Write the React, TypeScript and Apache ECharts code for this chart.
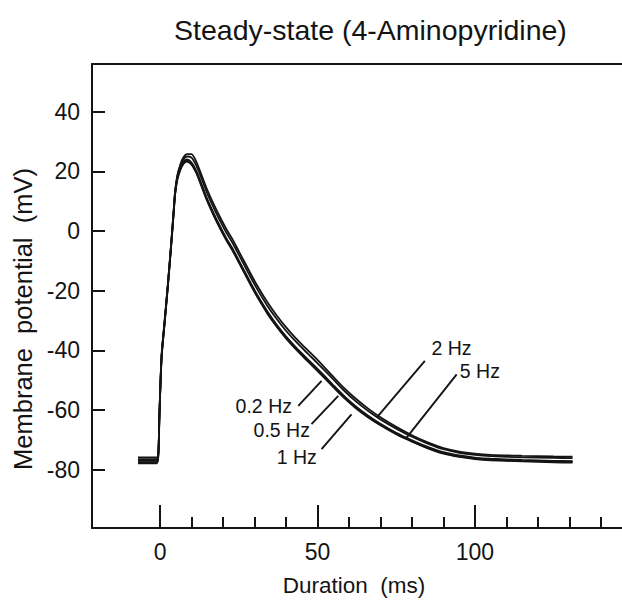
import React, { useEffect, useRef } from "react";
import * as echarts from "echarts";

const timeMs = [-7, -4, -1, -0.5, -0.2, 0.5, 1.5, 2.5, 3.2, 3.8, 4.3, 4.8, 5.5, 6.5, 7.5, 8.5, 10, 11.5, 13, 15, 17, 19, 21, 23, 25, 27, 29, 31, 34, 37, 40, 43, 46, 49, 52, 55, 58, 62, 66, 70, 75, 80, 85, 90, 95, 100, 105, 115, 125, 131];

const v02Hz = [-77.8, -77.8, -77.8, -74.5, -62.5, -42.5, -30.5, -18.5, -9.5, -1.5, 5.5, 12.3, 17.2, 20.6, 22.6, 23.3, 22.3, 19.5, 15.5, 10, 5.3, 1, -3, -6.5, -10.5, -14.5, -18.5, -22.3, -27.5, -32, -36, -39.5, -42.7, -45.8, -49, -52.3, -55.5, -59.2, -62.4, -65.1, -68.1, -70.6, -72.8, -74.6, -75.7, -76.4, -76.8, -77.2, -77.5, -77.6];
const v05Hz = [-77.4, -77.4, -77.4, -74.3, -62.3, -42.3, -30.3, -18.3, -9.3, -1.3, 5.7, 12.6, 17.5, 21, 23, 23.7, 22.7, 19.9, 15.9, 10.4, 5.7, 1.4, -2.6, -6.1, -10.1, -14.1, -18.1, -21.9, -27.1, -31.6, -35.6, -39.1, -42.3, -45.4, -48.6, -51.9, -55.1, -58.9, -62.1, -64.9, -67.9, -70.4, -72.6, -74.4, -75.5, -76.2, -76.6, -77, -77.2, -77.3];
const v1Hz = [-77, -77, -77, -74, -62, -42, -30, -18, -9, -1, 6, 12.8, 17.8, 21.3, 23.3, 24, 23, 20.2, 16.2, 10.7, 6, 1.7, -2.3, -5.8, -9.8, -13.8, -17.8, -21.6, -26.8, -31.3, -35.3, -38.8, -42, -45.1, -48.3, -51.6, -54.8, -58.6, -61.8, -64.6, -67.6, -70.1, -72.3, -74.1, -75.2, -75.9, -76.3, -76.7, -77, -77.1];
const v2Hz = [-76.4, -76.4, -76.4, -73.8, -61.8, -41.8, -29.8, -17.8, -8.8, -0.8, 6.2, 13.2, 18.3, 22, 24.2, 25, 24.6, 22, 18.1, 12.6, 7.9, 3.6, -0.4, -3.9, -7.9, -11.9, -15.9, -19.7, -24.9, -29.4, -33.4, -36.9, -40.1, -43.2, -46.4, -49.7, -53, -56.9, -60.2, -63.1, -66.2, -68.9, -71.2, -73.1, -74.3, -75, -75.4, -75.8, -76, -76.1];
const v5Hz = [-75.8, -75.8, -75.8, -73.5, -61.5, -41.5, -29.5, -17.5, -8.5, -0.5, 6.5, 13.5, 18.7, 22.5, 24.8, 25.8, 25.8, 23.3, 19.3, 13.8, 9.1, 4.8, 0.8, -2.7, -6.7, -10.7, -14.7, -18.5, -23.7, -28.2, -32.2, -35.8, -39, -42.1, -45.4, -48.8, -52.1, -56, -59.4, -62.4, -65.6, -68.4, -70.8, -72.7, -73.9, -74.6, -75, -75.3, -75.5, -75.6];

const seriesNames = ["0.2 Hz", "0.5 Hz", "1 Hz", "2 Hz", "5 Hz"];
const seriesValues = [v02Hz, v05Hz, v1Hz, v2Hz, v5Hz];

const yTickValues = [-80, -60, -40, -20, 0, 20, 40];
const xLabelValues = [0, 50, 100];
const xMinorTickValues = [10, 20, 30, 40, 60, 70, 80, 90, 110, 120, 130, 140];

// annotation: label text, label anchor (t, v), leader from (t, v) to (t, v)
const annoText = ["0.2 Hz", "0.5 Hz", "1 Hz", "2 Hz", "5 Hz"];
const annoAlign = ["right", "right", "right", "left", "left"];
const annoLabelPos = [[41.9, -58.5], [47.6, -66.7], [49.8, -75.6], [86.2, -39.1], [95.2, -46.8]];
const annoLeaderFrom = [[43.9, -58.6], [48.1, -64.7], [51.3, -73.1], [68.8, -62.5], [78.3, -69.2]];
const annoLeaderTo = [[51.3, -50.2], [56.6, -55.2], [60.8, -61.4], [84.1, -43.5], [94.2, -48]];

const FONT = "'Liberation Sans', Arial, Helvetica, sans-serif";
const INK = "#141414";

export default function App() {
  const ref = useRef<HTMLDivElement>(null);
  useEffect(() => {
    if (!ref.current) return;
    const chart = echarts.init(ref.current, null, { renderer: "svg" });
    const xMin = -21.6;
    const xMax = 146.7;
    const option: any = {
      animation: false,
      backgroundColor: "#ffffff",
      textStyle: { fontFamily: FONT, color: INK },
      title: {
        text: "Steady-state (4-Aminopyridine)",
        left: 169,
        top: 10,
        textStyle: { fontFamily: FONT, fontSize: 28.5, fontWeight: "normal", color: INK },
      },
      grid: { left: 92, right: 0, top: 64, bottom: 73 },
      xAxis: [
        {
          type: "value",
          min: xMin,
          max: xMax,
          position: "bottom",
          name: "Duration  (ms)",
          nameLocation: "middle",
          nameGap: 46,
          nameTextStyle: { fontFamily: FONT, fontSize: 22.5, color: INK, padding: [0, 6, 0, 0] },
          axisLine: { show: true, onZero: false, lineStyle: { color: INK, width: 2 } },
          axisTick: { show: true, inside: true, length: 23, customValues: xLabelValues, lineStyle: { color: INK, width: 2 } },
          axisLabel: { show: true, customValues: xLabelValues, fontFamily: FONT, fontSize: 23, color: INK, margin: 12 },
          splitLine: { show: false },
        },
        {
          type: "value",
          min: xMin,
          max: xMax,
          position: "bottom",
          axisLine: { show: false, onZero: false },
          axisTick: { show: true, inside: true, length: 11, customValues: xMinorTickValues, lineStyle: { color: INK, width: 2 } },
          axisLabel: { show: false },
          splitLine: { show: false },
        },
        {
          type: "value",
          min: xMin,
          max: xMax,
          position: "top",
          axisLine: { show: true, onZero: false, lineStyle: { color: INK, width: 2 } },
          axisTick: { show: false },
          axisLabel: { show: false },
          splitLine: { show: false },
        },
      ],
      yAxis: {
        type: "value",
        min: -99.5,
        max: 56,
        name: "Membrane  potential  (mV)",
        nameLocation: "middle",
        nameGap: 51,
        nameTextStyle: { fontFamily: FONT, fontSize: 25.5, color: INK, padding: [0, 46, 0, 0] },
        axisLine: { show: true, onZero: false, lineStyle: { color: INK, width: 2 } },
        axisTick: { show: true, inside: true, length: 13, customValues: yTickValues, lineStyle: { color: INK, width: 2 } },
        axisLabel: { show: true, customValues: yTickValues, fontFamily: FONT, fontSize: 23, color: INK, margin: 12, padding: [5, 0, 0, 0] },
        splitLine: { show: false },
      },
      series: seriesNames.map((name, i) => ({
        name,
        type: "line",
        xAxisIndex: 0,
        yAxisIndex: 0,
        symbol: "none",
        smooth: 0.25,
        lineStyle: { color: INK, width: 1.8 },
        data: timeMs.map((t, j) => [t, seriesValues[i][j]]),
      })),
    };
    chart.setOption(option);

    const toPx = (p: number[]) => chart.convertToPixel({ xAxisIndex: 0, yAxisIndex: 0 }, p) as number[];
    const graphics: any[] = [];
    annoText.forEach((txt, i) => {
      const a = toPx(annoLeaderFrom[i]);
      const b = toPx(annoLeaderTo[i]);
      const l = toPx(annoLabelPos[i]);
      graphics.push({
        type: "line",
        shape: { x1: a[0], y1: a[1], x2: b[0], y2: b[1] },
        style: { stroke: INK, lineWidth: 1.9 },
        silent: true,
      });
      graphics.push({
        type: "text",
        x: l[0],
        y: l[1],
        style: {
          text: txt,
          fontFamily: FONT,
          fontSize: 19.5,
          fill: INK,
          align: annoAlign[i],
          verticalAlign: "middle",
        },
        silent: true,
      });
    });
    chart.setOption({ graphic: graphics });

    return () => chart.dispose();
  }, []);
  return <div ref={ref} style={{ position: "fixed", left: 0, top: 0, width: 622, height: 602 }} />;
}
